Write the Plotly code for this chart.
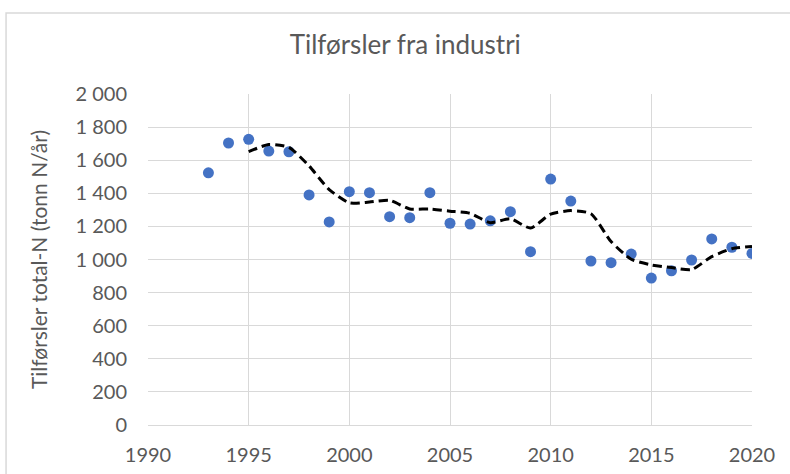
import pandas as pd
import plotly.graph_objects as go

# Annual nitrogen input from industry (tonn N/år)
years = list(range(1993, 2021))
total_n = [1524, 1704, 1726, 1655, 1651, 1390, 1227, 1410, 1404, 1259,
           1253, 1404, 1219, 1214, 1234, 1289, 1047, 1486, 1353, 991,
           981, 1033, 888, 932, 997, 1124, 1074, 1037]

title_text = "Tilførsler fra industri"
y_title = "Tilførsler total-N (tonn N/år)"
x_ticks = [1990, 1995, 2000, 2005, 2010, 2015, 2020]
y_ticks = [0, 200, 400, 600, 800, 1000, 1200, 1400, 1600, 1800, 2000]

# 3-year moving average trendline
moving_avg = pd.Series(total_n, index=years).rolling(3).mean().dropna()

FONT = "Lato, Roboto, Arial, sans-serif"
GRID = "#D9D9D9"
TEXT = "#595959"

fig = go.Figure()
fig.add_trace(go.Scatter(
    x=years, y=total_n, mode="markers",
    marker=dict(color="#4472C4", size=11),
    showlegend=False, hoverinfo="x+y",
))
fig.add_trace(go.Scatter(
    x=list(moving_avg.index), y=list(moving_avg.values), mode="lines",
    line=dict(color="black", width=3, dash="9px,5px", shape="spline", smoothing=0.6),
    showlegend=False, hoverinfo="skip",
))

fig.update_layout(
    width=790, height=474,
    margin=dict(l=148, r=38, t=94, b=49, autoexpand=False),
    paper_bgcolor="white", plot_bgcolor="white",
    separators=", ",
    font=dict(family=FONT, size=20, color=TEXT),
    title=dict(text=title_text, x=0.513, xanchor="center", y=0.905, yanchor="middle",
               font=dict(family=FONT, size=26, color=TEXT)),
    shapes=[dict(type="rect", xref="paper", yref="paper",
                 x0=-0.235, x1=1.3, y0=-0.5, y1=1.245,
                 line=dict(color=GRID, width=1.5), layer="below")],
)
fig.update_xaxes(
    range=[1990, 2020], tickvals=x_ticks, automargin=False,
    ticks="outside", ticklen=12, tickcolor="rgba(0,0,0,0)",
    showgrid=True, gridcolor=GRID, gridwidth=1,
    showline=True, linecolor=GRID, linewidth=1, mirror=False,
    zeroline=False, tickfont=dict(size=20, color=TEXT),
)
fig.update_yaxes(
    range=[0, 2000], tickvals=y_ticks, tickformat=",d", automargin=False,
    ticks="outside", ticklen=16, tickcolor="rgba(0,0,0,0)",
    showgrid=True, gridcolor=GRID, gridwidth=1,
    showline=False, zeroline=False,
    title=dict(text=y_title, font=dict(size=21, color=TEXT), standoff=22),
    tickfont=dict(size=20, color=TEXT),
)

fig.write_html("out.html")
